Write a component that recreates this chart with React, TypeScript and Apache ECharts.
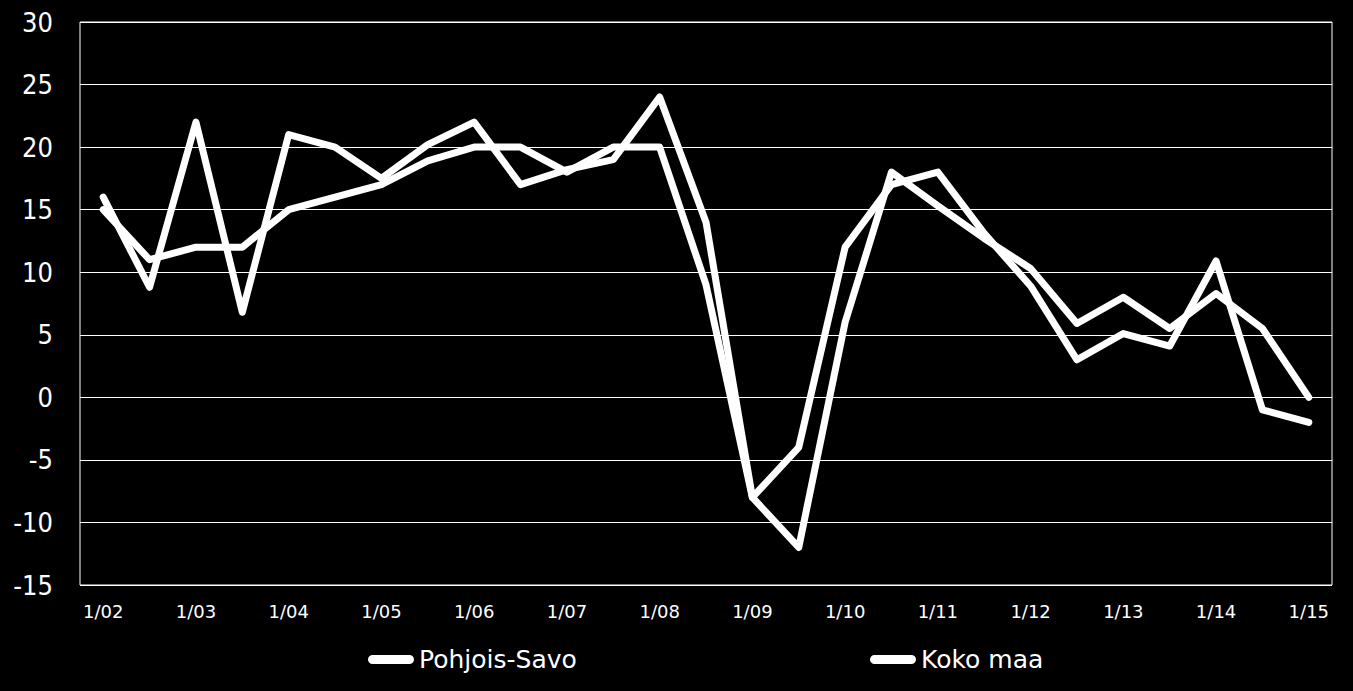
import * as echarts from 'echarts';
import { useEffect, useRef } from 'react';

// half-year periods, labels shown only for January
const categories = [
  '1/02', '7/02', '1/03', '7/03', '1/04', '7/04', '1/05', '7/05', '1/06', '7/06',
  '1/07', '7/07', '1/08', '7/08', '1/09', '7/09', '1/10', '7/10', '1/11', '7/11',
  '1/12', '7/12', '1/13', '7/13', '1/14', '7/14', '1/15',
];

const pohjoisSavo = [
  16, 8.8, 22, 6.8, 21, 20, 17.5, 20.2, 22, 17, 18.2, 19, 24, 14, -8, -12, 6, 18,
  15.3, 12.7, 10.3, 5.9, 8, 5.5, 8.3, 5.5, 0,
];

const kokoMaa = [
  15, 11, 12, 12, 15, 16, 17, 18.9, 20, 20, 18, 20, 20, 9, -8, -4, 12, 17, 18,
  13.1, 8.9, 3, 5.1, 4.1, 10.9, -1, -2,
];

const yTicks = { min: -15, max: 30, step: 5 };

const seriesNames = ['Pohjois-Savo', 'Koko maa'];

const legendIcon =
  'path://M4.5,0 L40.5,0 A4.5,4.5 0 0 1 40.5,9 L4.5,9 A4.5,4.5 0 0 1 4.5,0 Z';

const App = () => {
  const chartRef = useRef<HTMLDivElement>(null);

  useEffect(() => {
    if (!chartRef.current) return;
    const chart = echarts.init(chartRef.current, undefined, { renderer: 'svg' });

    const lineStyle = { color: '#fff', width: 7, cap: 'round', join: 'round' };

    const legendBase = {
      top: 647,
      itemWidth: 46,
      itemHeight: 10,
      icon: legendIcon,
      itemStyle: { color: '#fff' },
      textStyle: { color: '#fff', fontSize: 25, fontFamily: 'DejaVu Sans' },
      padding: 0,
    };

    chart.setOption({
      animation: false,
      backgroundColor: '#000',
      grid: {
        left: 80,
        right: 21,
        top: 22,
        bottom: 106,
        show: true,
        borderColor: '#fff',
        borderWidth: 1,
      },
      legend: [
        { ...legendBase, left: 368, data: [seriesNames[0]] },
        { ...legendBase, left: 870, data: [seriesNames[1]] },
      ],
      xAxis: {
        type: 'category',
        data: categories,
        boundaryGap: true,
        axisLine: { show: false },
        axisTick: { show: false },
        axisLabel: {
          interval: 1,
          color: '#fff',
          fontSize: 18,
          fontFamily: 'DejaVu Sans',
          margin: 17,
        },
      },
      yAxis: {
        type: 'value',
        min: yTicks.min,
        max: yTicks.max,
        interval: yTicks.step,
        axisLine: { show: false },
        axisTick: { show: false },
        splitLine: { lineStyle: { color: '#fff', width: 1 } },
        axisLabel: {
          color: '#fff',
          fontSize: 27,
          fontFamily: 'DejaVu Sans Condensed',
          margin: 27,
        },
      },
      series: [
        {
          name: seriesNames[0],
          type: 'line',
          data: pohjoisSavo,
          showSymbol: false,
          lineStyle,
          itemStyle: { color: '#fff' },
        },
        {
          name: seriesNames[1],
          type: 'line',
          data: kokoMaa,
          showSymbol: false,
          lineStyle,
          itemStyle: { color: '#fff' },
        },
      ],
    });

    return () => {
      chart.dispose();
    };
  }, []);

  return (
    <div
      ref={chartRef}
      style={{ position: 'fixed', left: 0, top: 0, width: 1353, height: 691, background: '#000' }}
    ></div>
  );
};

export default App;
